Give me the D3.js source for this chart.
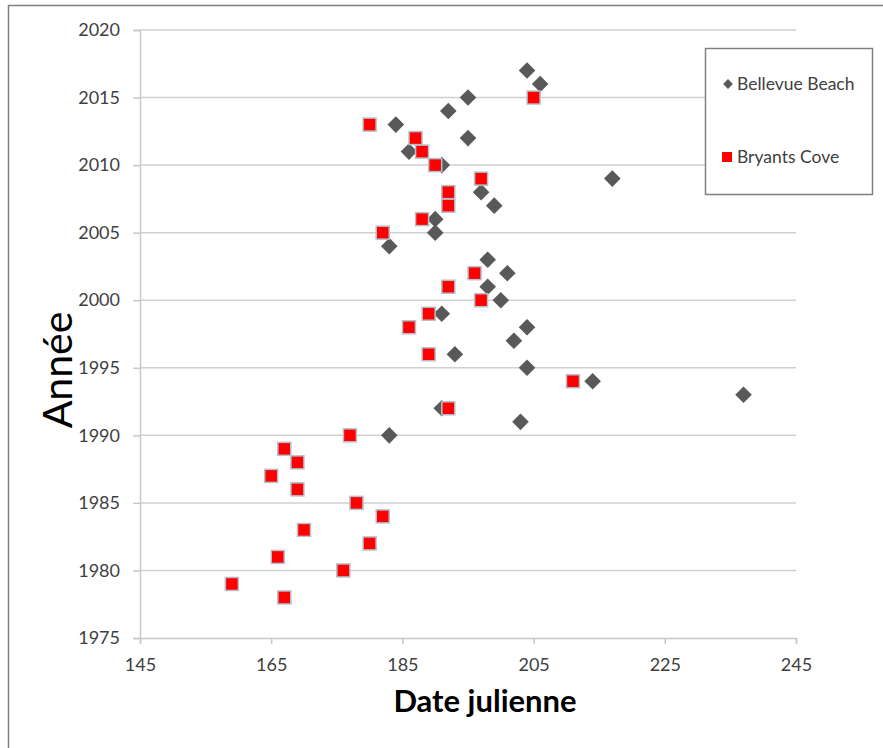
<!DOCTYPE html>
<html>
<head>
<meta charset="utf-8">
<script src="https://cdn.jsdelivr.net/npm/d3@7"></script>
<style>
  body { margin: 0; background: #fff; }
  svg { display: block; }
</style>
</head>
<body>
<svg id="chart" width="883" height="748"></svg>
<script>
// Bellevue Beach: julian date of the event, per year
const bellevueYears = [2017, 2016, 2015, 2014, 2013, 2012, 2011, 2010, 2009, 2008, 2007, 2006, 2005, 2004,
  2003, 2002, 2001, 2000, 1999, 1998, 1997, 1996, 1995, 1994, 1993, 1992, 1991, 1990];
const bellevueDays = [204, 206, 195, 192, 184, 195, 186, 191, 217, 197, 199, 190, 190, 183,
  198, 201, 198, 200, 191, 204, 202, 193, 204, 214, 237, 191, 203, 183];

// Bryants Cove: julian date of the event, per year
const bryantsYears = [2015, 2013, 2012, 2011, 2010, 2009, 2008, 2007, 2006, 2005, 2002, 2001, 2000, 1999,
  1998, 1996, 1994, 1992, 1990, 1989, 1988, 1987, 1986, 1985, 1984, 1983, 1982, 1981, 1980, 1979, 1978];
const bryantsDays = [205, 180, 187, 188, 190, 197, 192, 192, 188, 182, 196, 192, 197, 189,
  186, 189, 211, 192, 177, 167, 169, 165, 169, 178, 182, 170, 180, 166, 176, 159, 167];

const xTicks = [145, 165, 185, 205, 225, 245];
const yTicks = [1975, 1980, 1985, 1990, 1995, 2000, 2005, 2010, 2015, 2020];
const seriesNames = ["Bellevue Beach", "Bryants Cove"];

const font = "Lato, 'Open Sans', sans-serif";
const svg = d3.select("#chart");

// outer frame
svg.append("rect")
  .attr("x", 8.5).attr("y", 5.5).attr("width", 890).attr("height", 760)
  .attr("fill", "none").attr("stroke", "#7f7f7f").attr("stroke-width", 1.5);

const plot = { left: 140, right: 796, top: 30, bottom: 638 };
const x = d3.scaleLinear().domain([145, 245]).range([plot.left, plot.right]);
const y = d3.scaleLinear().domain([1975, 2020]).range([plot.bottom, plot.top]);

// horizontal gridlines
svg.append("g")
  .selectAll("line")
  .data(yTicks.filter(t => t !== 1975))
  .join("line")
  .attr("x1", plot.left).attr("x2", plot.right)
  .attr("y1", d => y(d)).attr("y2", d => y(d))
  .attr("stroke", "#d0d0d0").attr("stroke-width", 1.5);

// y axis
const yAxis = svg.append("g")
  .attr("transform", `translate(${plot.left},0)`)
  .call(d3.axisLeft(y).tickValues(yTicks).tickSize(7).tickPadding(13).tickFormat(d3.format("d")));
yAxis.select(".domain").attr("stroke", "#c8c8c8").attr("stroke-width", 1.5);
yAxis.selectAll(".tick line").attr("stroke", "#c8c8c8").attr("stroke-width", 1.5);
yAxis.selectAll("text").attr("fill", "#404040").style("font-family", font).style("font-size", "18px");

// x axis
const xAxis = svg.append("g")
  .attr("transform", `translate(0,${plot.bottom})`)
  .call(d3.axisBottom(x).tickValues(xTicks).tickSize(6).tickPadding(14).tickSizeOuter(6));
xAxis.select(".domain").attr("stroke", "#c8c8c8").attr("stroke-width", 1.5);
xAxis.selectAll(".tick line").attr("stroke", "#c8c8c8").attr("stroke-width", 1.5);
xAxis.selectAll("text").attr("fill", "#404040").style("font-family", font).style("font-size", "18px");

// Bellevue Beach diamonds
const diamond = d3.symbol().type(d3.symbolSquare).size(138);
svg.append("g")
  .selectAll("path")
  .data(bellevueYears.map((yr, i) => ({ yr, day: bellevueDays[i] })))
  .join("path")
  .attr("d", diamond)
  .attr("transform", d => `translate(${x(d.day)},${y(d.yr)}) rotate(45)`)
  .attr("fill", "#595959");

// Bryants Cove squares
const sq = 13;
svg.append("g")
  .selectAll("rect")
  .data(bryantsYears.map((yr, i) => ({ yr, day: bryantsDays[i] })))
  .join("rect")
  .attr("x", d => x(d.day) - sq / 2).attr("y", d => y(d.yr) - sq / 2)
  .attr("width", sq).attr("height", sq)
  .attr("fill", "#ff0000").attr("stroke", "#b4c0cc").attr("stroke-width", 1.5);

// axis titles
svg.append("text")
  .attr("x", 485).attr("y", 712)
  .attr("text-anchor", "middle")
  .style("font-family", font).style("font-size", "31px").style("font-weight", "bold")
  .attr("fill", "#000").text("Date julienne");

svg.append("text")
  .attr("transform", "translate(72,370) rotate(-90)")
  .attr("text-anchor", "middle")
  .style("font-family", font).style("font-size", "41px")
  .attr("fill", "#000").text("Année");

// legend
const legend = svg.append("g");
legend.append("rect")
  .attr("x", 705.5).attr("y", 48.5).attr("width", 167).attr("height", 146)
  .attr("fill", "#fff").attr("stroke", "#7f7f7f").attr("stroke-width", 1.5);
legend.append("path")
  .attr("d", d3.symbol().type(d3.symbolSquare).size(48))
  .attr("transform", "translate(728,84) rotate(45)")
  .attr("fill", "#595959");
legend.append("rect")
  .attr("x", 722).attr("y", 152).attr("width", 10).attr("height", 10)
  .attr("fill", "#ff0000");
legend.selectAll("text.lg")
  .data(seriesNames)
  .join("text")
  .attr("class", "lg")
  .attr("x", 737).attr("y", (d, i) => i === 0 ? 90 : 163)
  .style("font-family", font).style("font-size", "17.5px")
  .attr("fill", "#404040").text(d => d);
</script>
</body>
</html>
